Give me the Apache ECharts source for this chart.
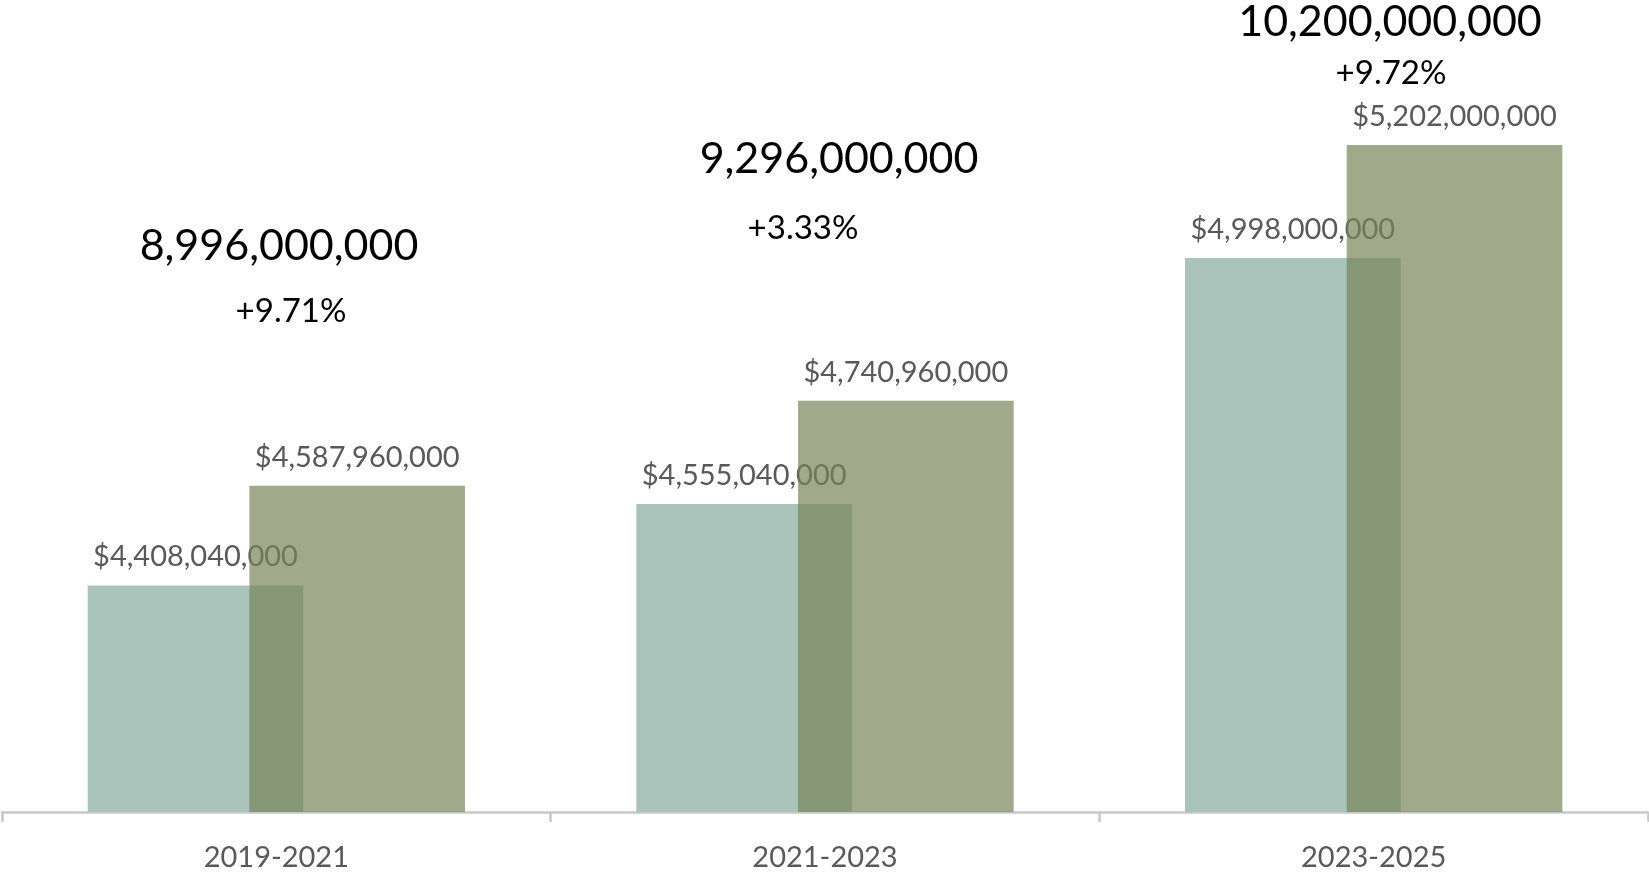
<!DOCTYPE html>
<html>
<head>
<meta charset="utf-8">
<script src="https://cdn.jsdelivr.net/npm/echarts@6/dist/echarts.min.js"></script>
<style>
html,body{margin:0;padding:0;background:#fff;}
#chart{width:1649px;height:872px;}
</style>
</head>
<body>
<div id="chart"></div>
<script>
// ---- data ----
const categories = ['2019-2021', '2021-2023', '2023-2025'];
const seriesA = [4408040000, 4555040000, 4998000000];
const seriesB = [4587960000, 4740960000, 5202000000];
const totals = [8996000000, 9296000000, 10200000000];
const growth = ['+9.71%', '+3.33%', '+9.72%'];

// ---- layout of the free-floating annotations (pixel centres) ----
const totalPos = [[279, 246], [839, 159], [1390, 22]];
const growthPos = [[291, 311], [803, 228], [1391, 73]];

const fmt = v => v.toLocaleString('en-US');
const FONT = 'Lato';

const chart = echarts.init(document.getElementById('chart'), null, {renderer: 'canvas'});

const graphics = [];
totals.forEach((t, i) => {
  graphics.push({
    type: 'text', x: totalPos[i][0], y: totalPos[i][1],
    style: {text: fmt(t), fill: '#000000', font: '43px ' + FONT, align: 'center', verticalAlign: 'middle'}
  });
  graphics.push({
    type: 'text', x: growthPos[i][0], y: growthPos[i][1],
    style: {text: growth[i], fill: '#000000', font: '33px ' + FONT, align: 'center', verticalAlign: 'middle'}
  });
});

const labelCfg = {
  show: true, position: 'top', distance: 14,
  color: '#595959', fontFamily: FONT, fontSize: 29,
  formatter: p => '$' + fmt(p.value)
};

chart.setOption({
  animation: false,
  backgroundColor: '#ffffff',
  grid: {left: 2, right: 1, top: 35, bottom: 57, containLabel: false},
  xAxis: {
    type: 'category', data: categories,
    axisLine: {show: true, lineStyle: {color: '#c8c8c8', width: 2.5}},
    axisTick: {show: true, length: 10, lineStyle: {color: '#c8c8c8', width: 2.5}},
    axisLabel: {color: '#595959', fontFamily: FONT, fontSize: 29, margin: 31}
  },
  yAxis: {
    type: 'value', min: 4000000000, max: 5400000000, show: false,
    splitLine: {show: false}
  },
  series: [
    {
      name: 'A', type: 'bar', data: seriesA, barWidth: '39.3%',
      itemStyle: {color: '#a9c3bb'}, label: labelCfg, z: 2
    },
    {
      name: 'B', type: 'bar', data: seriesB, barWidth: '39.3%', barGap: '-25%',
      itemStyle: {color: 'rgba(119,132,88,0.7)'}, label: labelCfg, z: 3
    }
  ],
  graphic: graphics
});
</script>
</body>
</html>
